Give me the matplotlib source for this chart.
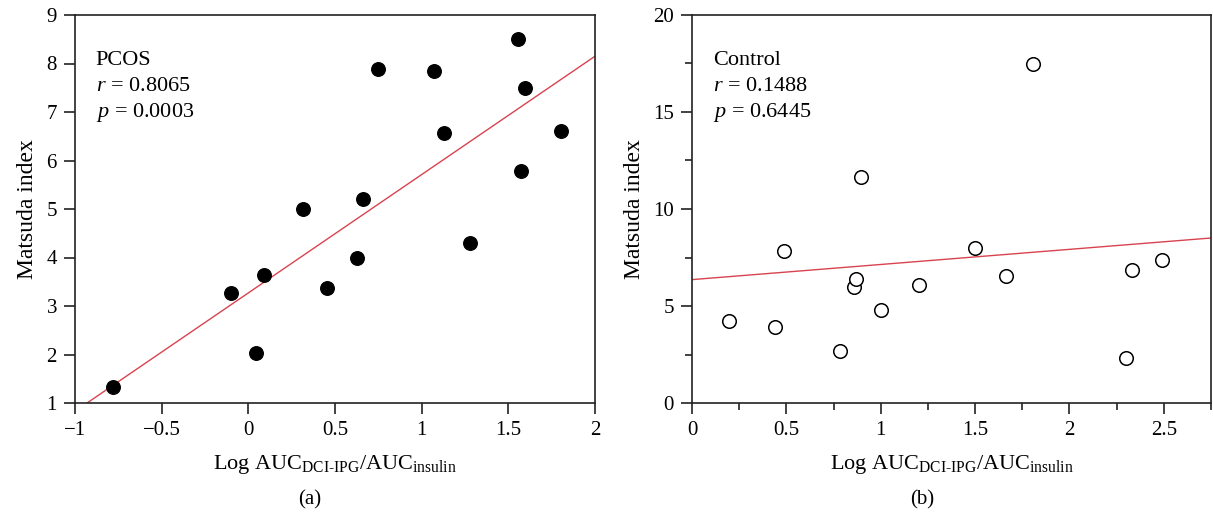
import matplotlib
matplotlib.use("Agg")
import matplotlib.pyplot as plt
from matplotlib.ticker import MultipleLocator
import numpy as np

# PCOS data
pcos_x = [-0.783, -0.100, 0.044, 0.091, 0.314, 0.454, 0.626, 0.659, 0.750, 1.073, 1.128, 1.277, 1.558, 1.573, 1.595, 1.801]
pcos_y = [1.33, 3.27, 2.04, 3.64, 5.00, 3.38, 3.99, 5.20, 7.88, 7.85, 6.57, 4.29, 8.51, 5.78, 7.49, 6.60]
pcos_fit = (2.44, 3.27)  # slope, intercept

# Control data
ctrl_x = [0.196, 0.440, 0.485, 0.785, 0.859, 0.871, 0.896, 1.002, 1.204, 1.501, 1.663, 1.808, 2.299, 2.333, 2.491]
ctrl_y = [4.21, 3.92, 7.81, 2.68, 6.00, 6.38, 11.64, 4.80, 6.07, 7.98, 6.55, 17.49, 2.30, 6.86, 7.36]
ctrl_fit = (0.78, 6.36)

plt.rcParams['font.family'] = ['Liberation Serif', 'DejaVu Serif']
plt.rcParams['mathtext.fontset'] = 'custom'
plt.rcParams['mathtext.rm'] = 'Liberation Serif'
plt.rcParams['mathtext.it'] = 'Liberation Serif:italic'
plt.rcParams['axes.unicode_minus'] = True

FS = 15
AFS = 16
fig = plt.figure(figsize=(12.13, 5.17), dpi=100)
ax1 = fig.add_axes([75/1213, 1-403/517, (595-75)/1213, (403-15)/517])
ax2 = fig.add_axes([692/1213, 1-403/517, (1211-692)/1213, (403-15)/517])

red = '#d9434f'
xlabel = r'Log AUC$_{\mathrm{DCI\text{-}IPG}}$/AUC$_{\mathrm{insulin}}$'

# Panel a
ax1.scatter(pcos_x, pcos_y, s=95, color='black', zorder=3, clip_on=False)
xl = np.array([-1, 2])
yl = pcos_fit[0]*xl + pcos_fit[1]
ax1.plot(xl, yl, color=red, lw=1.0, zorder=2)
ax1.set_xlim(-1, 2)
ax1.set_ylim(1, 9)
ax1.xaxis.set_major_locator(MultipleLocator(0.5))
ax1.yaxis.set_major_locator(MultipleLocator(1))
ax1.xaxis.set_major_formatter(plt.FuncFormatter(lambda v, p: ('%g' % v).replace('-', '\u2212')))
ax1.text(0.04, 0.882, 'PCOS', transform=ax1.transAxes, fontsize=AFS, va='center')
ax1.text(0.04, 0.815, r'$r$ = 0.8065', transform=ax1.transAxes, fontsize=AFS, va='center')
ax1.text(0.04, 0.75, r'$p$ = 0.0003', transform=ax1.transAxes, fontsize=AFS, va='center')
ax1.set_ylabel('Matsuda index', fontsize=17, labelpad=6)
ax1.set_xlabel(xlabel, fontsize=16, labelpad=9)

# Panel b
ax2.scatter(ctrl_x, ctrl_y, s=95, facecolors='white', edgecolors='black', linewidths=1.1, zorder=3)
xl2 = np.array([0, 2.75])
yl2 = ctrl_fit[0]*xl2 + ctrl_fit[1]
ax2.plot(xl2, yl2, color=red, lw=1.0, zorder=2)
ax2.set_xlim(0, 2.75)
ax2.set_ylim(0, 20)
ax2.xaxis.set_major_locator(MultipleLocator(0.5))
ax2.xaxis.set_minor_locator(MultipleLocator(0.25))
ax2.yaxis.set_major_locator(MultipleLocator(5))
ax2.yaxis.set_minor_locator(MultipleLocator(2.5))
ax2.xaxis.set_major_formatter(plt.FuncFormatter(lambda v, p: '%g' % v))
ax2.text(0.04, 0.882, 'Control', transform=ax2.transAxes, fontsize=AFS, va='center')
ax2.text(0.04, 0.815, r'$r$ = 0.1488', transform=ax2.transAxes, fontsize=AFS, va='center')
ax2.text(0.04, 0.75, r'$p$ = 0.6445', transform=ax2.transAxes, fontsize=AFS, va='center')
ax2.set_ylabel('Matsuda index', fontsize=17, labelpad=6)
ax2.set_xlabel(xlabel, fontsize=16, labelpad=9)

for ax in (ax1, ax2):
    for sp in ax.spines.values():
        sp.set_linewidth(1.2)
        sp.set_color('#222222')
    ax.tick_params(which='major', direction='out', length=8, width=1.2, labelsize=FS, pad=5, color='#222222')
    ax.tick_params(which='minor', direction='out', length=5, width=1.2, color='#222222')

fig.text(310/1213, 1-500/517, '(a)', fontsize=FS, ha='center', va='center')
fig.text(922/1213, 1-500/517, '(b)', fontsize=FS, ha='center', va='center')

fig.savefig('out.png', dpi=100)
